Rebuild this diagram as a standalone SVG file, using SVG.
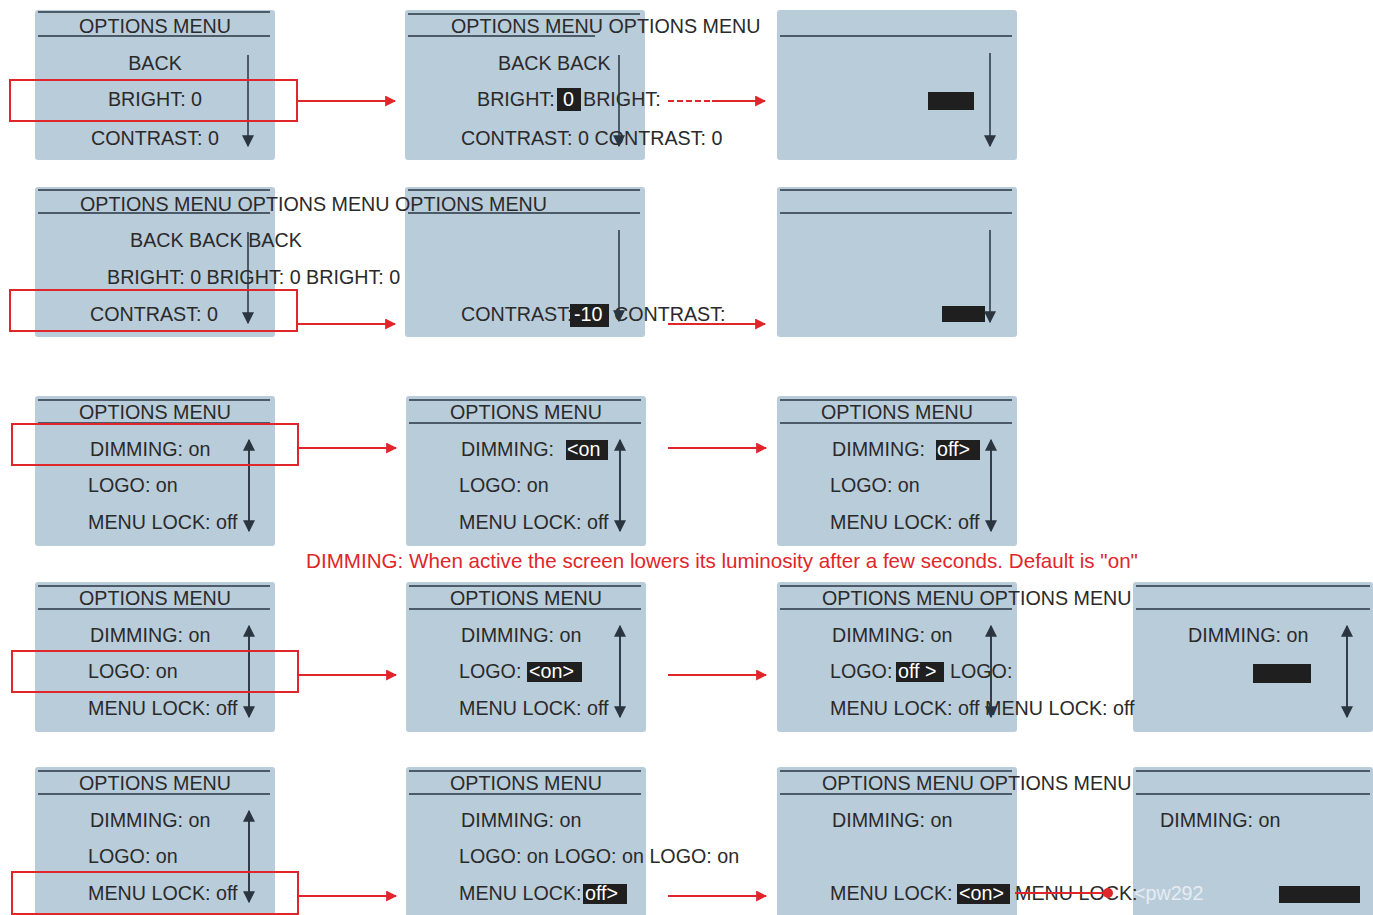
<svg xmlns="http://www.w3.org/2000/svg" width="1373" height="915" viewBox="0 0 1373 915">
<defs>
<style>
.p{fill:#b9ccda}
.h{stroke:#2a3540;stroke-width:1.5}
text{font-family:"Liberation Sans",Arial,sans-serif;font-size:19.7px;fill:#2a2a2a}
.c{text-anchor:middle}
.w{fill:#fff}
.s{stroke:#2a3540;stroke-width:1.5;fill:none}
.rb{fill:none;stroke:#e0262a;stroke-width:2}
.ra{stroke:#e0262a;stroke-width:2;fill:none}
.k{fill:#1f1f1f}
</style>
<marker id="ah" viewBox="0 0 10 10" refX="9" refY="5" markerWidth="12" markerHeight="12" markerUnits="userSpaceOnUse" orient="auto"><path d="M0,0L10,5L0,10z" fill="#2a3540"/></marker>
<marker id="ra" viewBox="0 0 10 10" refX="9" refY="5" markerWidth="11" markerHeight="11" markerUnits="userSpaceOnUse" orient="auto"><path d="M0,0L10,5L0,10z" fill="#e0262a"/></marker>
</defs>
<rect width="1373" height="915" fill="#fff"/>

<!-- Row 1 -->
<g id="r1a"><rect class="p" x="35" y="10" width="240" height="150" rx="3"/><line class="h" x1="38" y1="12" x2="270" y2="12"/><line class="h" x1="38" y1="36" x2="270" y2="36"/>
<text class="c" x="155" y="33">OPTIONS MENU</text><text class="c" x="155" y="70">BACK</text><text class="c" x="155" y="106">BRIGHT: 0</text><text class="c" x="155" y="145">CONTRAST: 0</text>
<line class="s" x1="248" y1="55" x2="248" y2="146" marker-end="url(#ah)"/></g>
<g id="r1c"><rect class="p" x="777" y="10" width="240" height="150" rx="3"/><line class="h" x1="780" y1="36" x2="1012" y2="36"/>
<rect class="k" x="928" y="92" width="46" height="18"/>
<line class="s" x1="990" y1="53" x2="990" y2="146" marker-end="url(#ah)"/></g>
<g id="r1b"><rect class="p" x="405" y="10" width="240" height="150" rx="3"/><line class="h" x1="408" y1="14" x2="640" y2="14"/><line class="h" x1="408" y1="36" x2="595" y2="36"/>
<text x="451" y="33">OPTIONS MENU OPTIONS MENU</text><text x="498" y="70">BACK BACK</text>
<text x="477" y="106">BRIGHT:</text><rect class="k" x="557" y="88" width="24" height="23"/><text class="w" x="563" y="106">0</text><text x="583" y="106">BRIGHT:</text>
<text x="461" y="145">CONTRAST: 0 CONTRAST: 0</text>
<line class="s" x1="619" y1="55" x2="619" y2="146" marker-end="url(#ah)"/></g>

<!-- Row 2 -->
<g id="r2c"><rect class="p" x="777" y="187" width="240" height="150" rx="3"/><line class="h" x1="780" y1="190" x2="1012" y2="190"/><line class="h" x1="780" y1="213" x2="1012" y2="213"/>
<rect class="k" x="942" y="306" width="43" height="16"/>
<line class="s" x1="990" y1="230" x2="990" y2="322" marker-end="url(#ah)"/></g>
<g id="r2b"><rect class="p" x="405" y="187" width="240" height="150" rx="3"/><line class="h" x1="408" y1="190" x2="640" y2="190"/><line class="h" x1="408" y1="213" x2="640" y2="213"/>
<text x="461" y="321">CONTRAST:</text><rect class="k" x="570" y="304" width="39" height="23"/><text class="w" x="574" y="321">-10</text><text x="614" y="321">CONTRAST:</text>
<line class="s" x1="619" y1="230" x2="619" y2="321" marker-end="url(#ah)"/></g>
<g id="r2a"><rect class="p" x="35" y="187" width="240" height="150" rx="3"/><line class="h" x1="38" y1="190" x2="270" y2="190"/><line class="h" x1="38" y1="213" x2="270" y2="213"/>
<text x="80" y="211">OPTIONS MENU OPTIONS MENU OPTIONS MENU</text><text x="130" y="247">BACK BACK BACK</text><text x="107" y="284">BRIGHT: 0 BRIGHT: 0 BRIGHT: 0</text><text x="90" y="321">CONTRAST: 0</text>
<line class="s" x1="248" y1="232" x2="248" y2="323" marker-end="url(#ah)"/></g>

<!-- Row 3 -->
<g id="r3a"><rect class="p" x="35" y="396" width="240" height="150" rx="3"/><line class="h" x1="38" y1="400" x2="270" y2="400"/><line class="h" x1="38" y1="423" x2="270" y2="423"/>
<text class="c" x="155" y="419">OPTIONS MENU</text><text x="90" y="456">DIMMING: on</text><text x="88" y="492">LOGO: on</text><text x="88" y="529">MENU LOCK: off</text>
<line class="s" x1="249" y1="530" x2="249" y2="440" marker-end="url(#ah)"/><line class="s" x1="249" y1="445" x2="249" y2="531" marker-end="url(#ah)"/></g>
<g id="r3b"><rect class="p" x="406" y="396" width="240" height="150" rx="3"/><line class="h" x1="409" y1="400" x2="641" y2="400"/><line class="h" x1="409" y1="423" x2="641" y2="423"/>
<text class="c" x="526" y="419">OPTIONS MENU</text><text x="461" y="456">DIMMING:</text><rect class="k" x="566" y="440" width="42" height="20"/><text class="w" x="567" y="456">&lt;on</text><text x="459" y="492">LOGO: on</text><text x="459" y="529">MENU LOCK: off</text>
<line class="s" x1="620" y1="530" x2="620" y2="440" marker-end="url(#ah)"/><line class="s" x1="620" y1="445" x2="620" y2="531" marker-end="url(#ah)"/></g>
<g id="r3c"><rect class="p" x="777" y="396" width="240" height="150" rx="3"/><line class="h" x1="780" y1="400" x2="1012" y2="400"/><line class="h" x1="780" y1="423" x2="1012" y2="423"/>
<text class="c" x="897" y="419">OPTIONS MENU</text><text x="832" y="456">DIMMING:</text><rect class="k" x="936" y="440" width="44" height="20"/><text class="w" x="937" y="456">off&gt;</text><text x="830" y="492">LOGO: on</text><text x="830" y="529">MENU LOCK: off</text>
<line class="s" x1="991" y1="530" x2="991" y2="440" marker-end="url(#ah)"/><line class="s" x1="991" y1="445" x2="991" y2="531" marker-end="url(#ah)"/></g>
<text x="722" y="568" class="c" style="fill:#e0262a;font-size:20.6px">DIMMING: When active the screen lowers its luminosity after a few seconds. Default is "on"</text>

<!-- Row 4 -->
<g id="r4a"><rect class="p" x="35" y="582" width="240" height="150" rx="3"/><line class="h" x1="38" y1="586" x2="270" y2="586"/><line class="h" x1="38" y1="609" x2="270" y2="609"/>
<text class="c" x="155" y="605">OPTIONS MENU</text><text x="90" y="642">DIMMING: on</text><text x="88" y="678">LOGO: on</text><text x="88" y="715">MENU LOCK: off</text>
<line class="s" x1="249" y1="716" x2="249" y2="626" marker-end="url(#ah)"/><line class="s" x1="249" y1="631" x2="249" y2="717" marker-end="url(#ah)"/></g>
<g id="r4b"><rect class="p" x="406" y="582" width="240" height="150" rx="3"/><line class="h" x1="409" y1="586" x2="641" y2="586"/><line class="h" x1="409" y1="609" x2="641" y2="609"/>
<text class="c" x="526" y="605">OPTIONS MENU</text><text x="461" y="642">DIMMING: on</text><text x="459" y="678">LOGO:</text><rect class="k" x="527" y="662" width="55" height="20"/><text class="w" x="529" y="678">&lt;on&gt;</text><text x="459" y="715">MENU LOCK: off</text>
<line class="s" x1="620" y1="716" x2="620" y2="626" marker-end="url(#ah)"/><line class="s" x1="620" y1="631" x2="620" y2="717" marker-end="url(#ah)"/></g>
<g id="r4d"><rect class="p" x="1133" y="582" width="240" height="150" rx="3"/><line class="h" x1="1136" y1="586" x2="1370" y2="586"/><line class="h" x1="1136" y1="609" x2="1370" y2="609"/>
<text x="1188" y="642">DIMMING: on</text><rect class="k" x="1253" y="664" width="58" height="19"/>
<line class="s" x1="1347" y1="716" x2="1347" y2="626" marker-end="url(#ah)"/><line class="s" x1="1347" y1="631" x2="1347" y2="717" marker-end="url(#ah)"/></g>
<g id="r4c"><rect class="p" x="777" y="582" width="240" height="150" rx="3"/><line class="h" x1="780" y1="586" x2="1012" y2="586"/><line class="h" x1="780" y1="609" x2="1012" y2="609"/>
<text x="822" y="605">OPTIONS MENU OPTIONS MENU</text><text x="832" y="642">DIMMING: on</text><text x="830" y="678">LOGO:</text><rect class="k" x="896" y="662" width="48" height="20"/><text class="w" x="898" y="678">off &gt;</text><text x="950" y="678">LOGO:</text><text x="830" y="715">MENU LOCK: off MENU LOCK: off</text>
<line class="s" x1="991" y1="716" x2="991" y2="626" marker-end="url(#ah)"/><line class="s" x1="991" y1="631" x2="991" y2="717" marker-end="url(#ah)"/></g>

<!-- Row 5 -->
<g id="r5a"><rect class="p" x="35" y="767" width="240" height="150" rx="3"/><line class="h" x1="38" y1="771" x2="270" y2="771"/><line class="h" x1="38" y1="794" x2="270" y2="794"/>
<text class="c" x="155" y="790">OPTIONS MENU</text><text x="90" y="827">DIMMING: on</text><text x="88" y="863">LOGO: on</text><text x="88" y="900">MENU LOCK: off</text>
<line class="s" x1="249" y1="901" x2="249" y2="811" marker-end="url(#ah)"/><line class="s" x1="249" y1="816" x2="249" y2="902" marker-end="url(#ah)"/></g>
<g id="r5b"><rect class="p" x="406" y="767" width="240" height="150" rx="3"/><line class="h" x1="409" y1="771" x2="641" y2="771"/><line class="h" x1="409" y1="794" x2="641" y2="794"/>
<text class="c" x="526" y="790">OPTIONS MENU</text><text x="461" y="827">DIMMING: on</text><text x="459" y="863">LOGO: on LOGO: on LOGO: on</text><text x="459" y="900">MENU LOCK:</text><rect class="k" x="583" y="884" width="44" height="20"/><text class="w" x="585" y="900">off&gt;</text></g>
<g id="r5d"><rect class="p" x="1133" y="767" width="240" height="150" rx="3"/><line class="h" x1="1136" y1="771" x2="1370" y2="771"/><line class="h" x1="1136" y1="794" x2="1370" y2="794"/>
<text x="1160" y="827">DIMMING: on</text><rect class="k" x="1279" y="886" width="81" height="17"/></g>
<g id="r5c"><rect class="p" x="777" y="767" width="240" height="150" rx="3"/><line class="h" x1="780" y1="771" x2="1012" y2="771"/><line class="h" x1="780" y1="794" x2="1012" y2="794"/>
<text x="822" y="790">OPTIONS MENU OPTIONS MENU</text><text x="832" y="827">DIMMING: on</text><text x="830" y="900">MENU LOCK:</text><rect class="k" x="957" y="884" width="53" height="20"/><text class="w" x="959" y="900">&lt;on&gt;</text><text x="1015" y="900">MENU LOCK:</text><text x="1134" y="900" style="fill:#e6edf2">&lt;pw292</text></g>

<g id="connectors">
<rect class="rb" x="10" y="80" width="287" height="41"/>
<rect class="rb" x="10" y="290" width="287" height="41"/>
<rect class="rb" x="12" y="424" width="286" height="41"/>
<rect class="rb" x="12" y="651" width="286" height="41"/>
<rect class="rb" x="12" y="872" width="286" height="42"/>
<line class="ra" x1="297" y1="101" x2="395" y2="101" marker-end="url(#ra)"/>
<line class="ra" x1="297" y1="324" x2="395" y2="324" marker-end="url(#ra)"/>
<line class="ra" x1="298" y1="448" x2="396" y2="448" marker-end="url(#ra)"/>
<line class="ra" x1="298" y1="675" x2="396" y2="675" marker-end="url(#ra)"/>
<line class="ra" x1="298" y1="896" x2="396" y2="896" marker-end="url(#ra)"/>
<line class="ra" x1="668" y1="101" x2="712" y2="101" stroke-dasharray="6,3"/>
<line class="ra" x1="712" y1="101" x2="765" y2="101" marker-end="url(#ra)"/>
<line class="ra" x1="668" y1="324" x2="765" y2="324" marker-end="url(#ra)"/>
<line class="ra" x1="668" y1="448" x2="766" y2="448" marker-end="url(#ra)"/>
<line class="ra" x1="668" y1="675" x2="766" y2="675" marker-end="url(#ra)"/>
<line class="ra" x1="668" y1="896" x2="766" y2="896" marker-end="url(#ra)"/>
<line class="ra" x1="1015" y1="893" x2="1108" y2="893"/>
<circle cx="1108" cy="893" r="5" fill="#e0262a"/>
</g>
</svg>
